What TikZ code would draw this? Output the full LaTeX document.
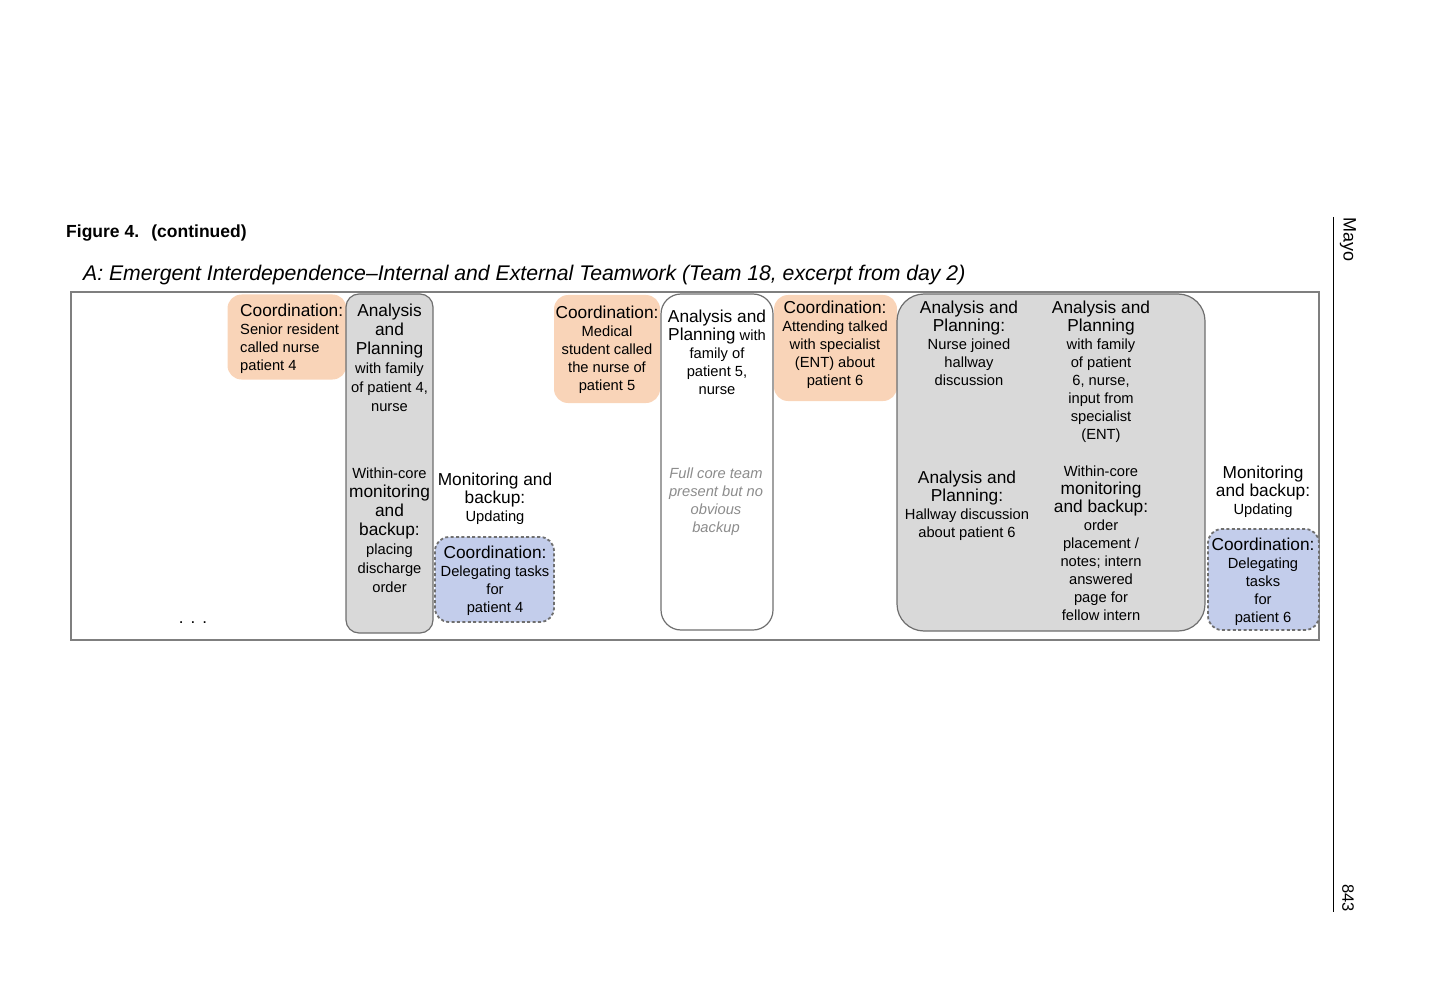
\documentclass[tikz,border=0pt]{standalone}
\usepackage{fontspec}
\setmainfont{Liberation Sans}
\definecolor{orangec}{HTML}{F9D4B8}
\definecolor{bluec}{HTML}{C3CDEB}
\definecolor{grayc}{HTML}{D9D9D9}
\definecolor{edgec}{HTML}{6F6F6F}
\definecolor{framec}{HTML}{7F7F7F}
\definecolor{italc}{HTML}{8C8C8C}
\newcommand\fbig{\fontsize{17.3}{18}\selectfont}
\newcommand\fsm{\fontsize{14.7}{18}\selectfont}
\tikzset{
  orangebox/.style={fill=orangec, draw=none, rounded corners=14pt, inner sep=0pt},
  graybox/.style={fill=grayc, draw=edgec, line width=1.2pt, inner sep=0pt},
  whitebox/.style={fill=white, draw=edgec, line width=1.2pt, rounded corners=20pt, inner sep=0pt},
  bluebox/.style={fill=bluec, draw=edgec, line width=1.8pt, dash pattern=on 3pt off 2.4pt, rounded corners=14pt, inner sep=0pt},
  txt/.style={inner sep=0pt, align=center, anchor=north, font=\fsm},
  txtw/.style={inner sep=0pt, align=center, anchor=north, font=\fontsize{14.7}{19}\selectfont},
}
\begin{document}
\begin{tikzpicture}[x=1pt,y=-1pt]
\useasboundingbox (0,0) rectangle (1440,1008);
% header
\node[inner sep=0pt, anchor=base west, font=\fontsize{17.5}{18}\bfseries\selectfont] (fig) at (66,238) {Figure 4.\hspace{0.7em}(continued)};
\node[inner sep=0pt, anchor=base west, font=\fontsize{21.2}{22}\itshape\selectfont] (title) at (83,280) {A: Emergent Interdependence–Internal and External Teamwork (Team 18, excerpt from day 2)};
% frame
\node[draw=framec, line width=1.5pt, minimum width=1248, minimum height=348, inner sep=0pt] (frame) at (695,466) {};
% right rule and running text
\coordinate (rtop) at (1333,217);
\coordinate (rbot) at (1333,912);
\draw[line width=0.8pt] (rtop) -- (rbot);
\node[rotate=-90, inner sep=0pt, font=\fontsize{18}{18}\selectfont] (mayo) at (1348,240) {Mayo};
\node[rotate=-90, inner sep=0pt, font=\fontsize{16.5}{18}\selectfont] (page) at (1348,898) {843};
% boxes
\node[orangebox, minimum width=119, minimum height=85] (o1) at (287,337) {};
\node[graybox, rounded corners=13pt, minimum width=87, minimum height=339] (g1) at (389.5,463.5) {};
\node[bluebox, minimum width=119, minimum height=85] (b1) at (494.5,579.5) {};
\node[orangebox, minimum width=106, minimum height=108] (o2) at (607,349) {};
\node[whitebox, minimum width=112, minimum height=336] (w1) at (717,462) {};
\node[orangebox, minimum width=123, minimum height=106] (o3) at (835.5,348) {};
\node[graybox, rounded corners=27pt, minimum width=308, minimum height=337] (g2) at (1051,462.5) {};
\node[bluebox, minimum width=111, minimum height=101] (b2) at (1263.5,579.5) {};
% texts
\node[txt, align=left, anchor=north west] (t1) at (240,303.5) {{\fbig Coordination:}\\Senior resident\\called nurse\\patient 4};
\node[txtw] (t2) at (389.5,303.5) {{\fbig Analysis}\\{\fbig and}\\{\fbig Planning}\\with family\\of patient 4,\\nurse};
\node[txtw] (t3) at (389.5,467.5) {Within-core\\{\fbig monitoring}\\{\fbig and}\\{\fbig backup:}\\placing\\discharge\\order};
\node[txt] (t4) at (495,472.5) {{\fbig Monitoring and}\\{\fbig backup:}\\Updating};
\node[txt] (t5) at (495,545.5) {{\fbig Coordination:}\\Delegating tasks\\for\\patient 4};
\node[txt] (t6) at (607,305.5) {{\fbig Coordination:}\\Medical\\student called\\the nurse of\\patient 5};
\node[txt] (t7) at (717,309.5) {{\fbig Analysis and}\\{\fbig Planning} with\\family of\\patient 5,\\nurse};
\node[txt, text=italc, font=\fsm\itshape] (t8) at (716,467.5) {Full core team\\present but no\\obvious\\backup};
\node[txt] (t9) at (835,300.5) {{\fbig Coordination:}\\Attending talked\\with specialist\\(ENT) about\\patient 6};
\node[txt] (t10) at (969,300.5) {{\fbig Analysis and}\\{\fbig Planning:}\\Nurse joined\\hallway\\discussion};
\node[txt] (t11) at (1101,300.5) {{\fbig Analysis and}\\{\fbig Planning}\\with family\\of patient\\6, nurse,\\input from\\specialist\\(ENT)};
\node[txt] (t12) at (967,470.5) {{\fbig Analysis and}\\{\fbig Planning:}\\Hallway discussion\\about patient 6};
\node[txt] (t13) at (1101,465.5) {Within-core\\{\fbig monitoring}\\{\fbig and backup:}\\order\\placement /\\notes; intern\\answered\\page for\\fellow intern};
\node[txt] (t14) at (1263,465.5) {{\fbig Monitoring}\\{\fbig and backup:}\\Updating};
\node[txt] (t15) at (1263,537.5) {{\fbig Coordination:}\\Delegating\\tasks\\for\\patient 6};
\node[inner sep=0pt, anchor=base, font=\fontsize{17}{18}\selectfont] (dots) at (193,623) {.\hspace{7pt}.\hspace{7pt}.};
\end{tikzpicture}
\end{document}
